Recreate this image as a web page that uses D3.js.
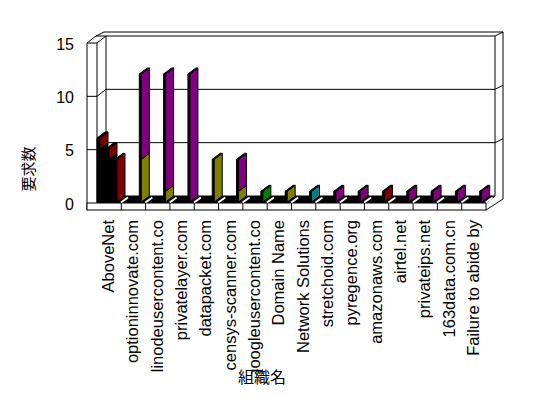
<!DOCTYPE html>
<html>
<head>
<meta charset="utf-8">
<script src="https://cdn.jsdelivr.net/npm/d3@7"></script>
<style>
  body { margin: 0; background: #fff; }
  svg { display: block; }
  .lbl { font-family: "Liberation Sans", Arial, sans-serif; font-size: 16.5px; fill: #000; }
  .cjk { font-family: "Noto Sans CJK JP", sans-serif; fill: #000; }
</style>
</head>
<body>
<div class="chart"></div>
<script>
let categories = ["AboveNet", "optioninnovate.com", "linodeusercontent.co", "privatelayer.com",
  "datapacket.com", "censys-scanner.com", "googleusercontent.co", "Domain Name",
  "Network Solutions", "stretchoid.com", "pyregence.org", "amazonaws.com",
  "airtel.net", "privateips.net", "163data.com.cn", "Failure to abide by"];

// stacked segments of the main bar of each category, bottom to top
let red    = [4, 0, 0, 0, 0, 0, 0, 0, 0, 0, 0, 1, 0, 0, 0, 0];
let olive  = [0, 4, 1, 0, 4, 1, 0, 1, 0, 0, 0, 0, 0, 0, 0, 0];
let green  = [0, 0, 0, 0, 0, 0, 1, 0, 0, 0, 0, 0, 0, 0, 0, 0];
let teal   = [0, 0, 0, 0, 0, 0, 0, 0, 1, 0, 0, 0, 0, 0, 0, 0];
let purple = [0, 8, 11, 12, 0, 3, 0, 0, 0, 1, 1, 0, 1, 1, 1, 1];

// AboveNet has two more bars standing behind the front one
let backBlack = [5, 4];
let backRed = [1, 1];

let yTicks = [0, 5, 10, 15];

let svgWidth = 548, svgHeight = 398;
let plotLeft = 97, plotRight = 486, plotTop = 43, plotBottom = 203;
let DX = 9, DY = -7;      // depth of the floor / left wall
let TX = 8, TY = -4;      // thickness of the back wall
let SX = 8, SY = -6;      // depth of a bar

let svg = d3.select(".chart").append("svg")
  .attr("width", svgWidth)
  .attr("height", svgHeight);

let x = d3.scaleBand().domain(categories).range([plotLeft, plotRight]);
let y = d3.scaleLinear().domain([0, 15]).range([plotBottom, plotTop]);

function line(x1, y1, x2, y2) {
  svg.append("line")
    .attr("x1", x1).attr("y1", y1).attr("x2", x2).attr("y2", y2)
    .attr("stroke", "#000").attr("stroke-width", 1);
}

function poly(pts, fill) {
  svg.append("polygon")
    .attr("points", pts.map(p => p.join(",")).join(" "))
    .attr("fill", fill)
    .attr("stroke", "#000")
    .attr("stroke-width", 1);
}

// back wall
let bl = plotLeft + DX, br = plotRight + DX;
let bt = y(15) + DY, bb = y(0) + DY;
line(87 + DX, bt, br, bt);
line(87 + DX + TX, bt + TY, br + TX, bt + TY);
line(87 + DX, bt, 87 + DX + TX, bt + TY);
line(br, bt, br + TX, bt + TY);
line(br, bt, br, bb);
line(br + TX, bt + TY, br + TX, bb + 3);
line(bl, bt, bl, bb);

// left wall
line(87, y(15), 87, plotBottom + 7);
line(plotLeft, y(15), plotLeft, plotBottom);
line(87, y(15), plotLeft, y(15));
line(87, y(15), 87 + DX, bt);
line(plotLeft, y(15), bl, bt);

// grid lines
yTicks.filter(v => v > 0 && v < 15).forEach(v => {
  line(87, y(v), plotLeft, y(v));
  line(plotLeft, y(v), bl, y(v) + DY);
  line(bl, y(v) + DY, br, y(v) + DY);
  line(br, y(v) + DY, br + TX, y(v) + DY + TY);
});

// floor
poly([[plotLeft, plotBottom], [plotRight, plotBottom], [br, bb], [bl, bb]], "#000");
svg.append("rect")
  .attr("x", 87).attr("y", plotBottom)
  .attr("width", plotRight - 87).attr("height", 7)
  .attr("fill", "#fff").attr("stroke", "#000");
line(plotRight, plotBottom, br, bb);
line(plotRight, plotBottom + 7, br + TX, bb + 3);
categories.slice(1).forEach(c => line(x(c), plotBottom, x(c), plotBottom + 7));

// white marks on the floor
categories.forEach(c => {
  let bx = x(c) + x.bandwidth() * 0.74;
  svg.append("line")
    .attr("x1", bx + 6).attr("y1", plotBottom - 0.5)
    .attr("x2", bx + 13).attr("y2", plotBottom - 5.5)
    .attr("stroke", "#fff").attr("stroke-width", 2);
});

function slab(bx, fw, segs) {
  let yb = v => y(v) - 1;
  segs.forEach(s => {
    if (s.v1 <= s.v0) return;
    poly([[bx, yb(s.v1)], [bx + fw, yb(s.v1)], [bx + fw, yb(s.v0)], [bx, yb(s.v0)]], "#000");
    poly([[bx + fw, yb(s.v1)], [bx + fw + SX, yb(s.v1) + SY],
          [bx + fw + SX, yb(s.v0) + SY], [bx + fw, yb(s.v0)]], s.color);
  });
  let vt = d3.max(segs, s => s.v1);
  if (vt > 0) {
    poly([[bx, yb(vt)], [bx + fw, yb(vt)],
          [bx + fw + SX, yb(vt) + SY], [bx + SX, yb(vt) + SY]], "#000");
  }
}

function stack(parts) {
  let acc = 0;
  return parts.map(p => {
    let s = { v0: acc, v1: acc + p.v, color: p.color };
    acc += p.v;
    return s;
  });
}

// rear bars of AboveNet
backBlack.forEach((b, i) => {
  let bx = x(categories[0]) + i * 9;
  slab(bx, 3, stack([{ v: b, color: "#000" }, { v: backRed[i], color: "#800000" }]));
});

categories.forEach((c, i) => {
  let bx = x(c) + x.bandwidth() * 0.74;
  let segs = stack([
    { v: red[i], color: "#800000" },
    { v: olive[i], color: "#808000" },
    { v: green[i], color: "#008000" },
    { v: teal[i], color: "#008080" },
    { v: purple[i], color: "#800080" }
  ]);
  slab(bx, 2, segs);
});

// tick labels
yTicks.forEach(v => {
  svg.append("text")
    .attr("class", "lbl")
    .attr("x", 74)
    .attr("y", y(v) + 1)
    .attr("text-anchor", "end")
    .attr("dominant-baseline", "central")
    .style("font-size", "16px")
    .text(v);
});

// category labels
svg.append("clipPath").attr("id", "lclip")
  .append("rect").attr("x", 0).attr("y", 212).attr("width", svgWidth).attr("height", 162);

svg.append("g")
  .attr("clip-path", "url(#lclip)")
  .selectAll("text")
  .data(categories)
  .enter().append("text")
    .attr("class", "lbl")
    .attr("transform", d => `translate(${x(d) + x.bandwidth() / 2 - 1}, 220) rotate(-90)`)
    .attr("text-anchor", "end")
    .attr("dominant-baseline", "central")
    .text(d => d);

// axis titles
svg.append("text")
  .attr("class", "cjk")
  .attr("transform", "translate(27, 169) rotate(-90)")
  .attr("text-anchor", "middle")
  .attr("dominant-baseline", "central")
  .style("font-size", "15px")
  .text("要求数");

svg.append("text")
  .attr("class", "cjk")
  .attr("x", 262)
  .attr("y", 376)
  .attr("text-anchor", "middle")
  .attr("dominant-baseline", "central")
  .style("font-size", "16px")
  .text("組織名");
</script>
</body>
</html>
